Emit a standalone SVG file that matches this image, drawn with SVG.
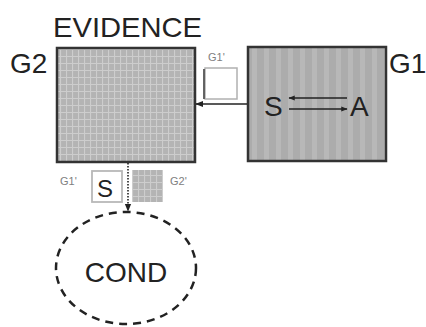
<svg xmlns="http://www.w3.org/2000/svg" width="426" height="327" viewBox="0 0 426 327">
  <style>
    .lbl { font-family: "Liberation Sans", Arial, sans-serif; fill: #222222; }
    .big { font-size: 28px; }
    .tiny { font-size: 11px; fill: #808080; }
    .box { stroke: #333333; stroke-width: 2.5; }
    .conn { fill: none; stroke: #222222; stroke-width: 1.6; }
  </style>
  <defs>
    <!-- crosshatched grid fill -->
    <pattern id="grid" width="6" height="7" patternUnits="userSpaceOnUse">
      <rect width="6" height="7" fill="#b4b4b4"/>
      <path d="M0.5 0 V7 M0 0.5 H6" stroke="#cdcdcd" stroke-width="1.2"/>
    </pattern>
    <!-- vertical stripe fill -->
    <pattern id="stripes" width="12" height="10" patternUnits="userSpaceOnUse">
      <rect width="12" height="10" fill="#acacac"/>
      <rect x="0" width="5" height="10" fill="#b8b8b8"/>
    </pattern>
    <marker id="arr" viewBox="0 0 10 10" refX="9" refY="5" markerWidth="5" markerHeight="5" orient="auto">
      <path d="M0 1 L10 5 L0 9 Z" fill="#222222"/>
    </marker>
    <marker id="arrSm" viewBox="0 0 10 10" refX="9" refY="5" markerWidth="4" markerHeight="4" orient="auto">
      <path d="M0 1 L10 5 L0 9 Z" fill="#222222"/>
    </marker>
  </defs>

  <!-- EVIDENCE graph -->
  <g id="g2">
    <text class="lbl big" x="53" y="37" textLength="149" lengthAdjust="spacingAndGlyphs">EVIDENCE</text>
    <text class="lbl big" x="10" y="73">G2</text>
    <rect class="box" x="57" y="48" width="138" height="114" fill="url(#grid)"/>
  </g>

  <!-- G1 graph -->
  <g id="g1">
    <rect class="box" x="248" y="47" width="138" height="114" fill="url(#stripes)"/>
    <text class="lbl big" x="389" y="73">G1</text>
    <text class="lbl big" x="264" y="116">S</text>
    <text class="lbl big" x="350" y="116">A</text>
    <line class="conn" x1="347" y1="98" x2="289" y2="98" stroke-width="1.2" marker-end="url(#arrSm)"/>
    <line class="conn" x1="289" y1="109" x2="347" y2="109" stroke-width="1.2" marker-end="url(#arrSm)"/>
  </g>

  <!-- projection of G1 -->
  <g id="g1-proj">
    <text class="lbl tiny" x="208" y="61" font-size="10">G1'</text>
    <rect x="205" y="68" width="32" height="31" fill="#ffffff" stroke="#b0b0b0" stroke-width="1.5"/>
    <line x1="204" y1="69" x2="204" y2="99" stroke="#555555" stroke-width="1.8"/>
  </g>

  <!-- condition node -->
  <g id="cond">
    <ellipse cx="126" cy="268" rx="70" ry="56" fill="none" stroke="#222222" stroke-width="2.5" stroke-dasharray="8 6"/>
    <text class="lbl big" x="126" y="282" text-anchor="middle">COND</text>
  </g>

  <!-- projections shown under G2 -->
  <g id="proj-pair">
    <text class="lbl tiny" x="60" y="185" font-size="12">G1'</text>
    <rect x="92" y="171" width="30" height="31" fill="#ffffff" stroke="#b8b8b8" stroke-width="1.8"/>
    <text class="lbl" x="97" y="197" font-size="24">S</text>
    <rect x="132" y="170" width="31" height="32" fill="url(#grid)"/>
    <text class="lbl tiny" x="170" y="185" font-size="12">G2'</text>
  </g>

  <!-- connectors -->
  <g id="connectors">
    <line class="conn" x1="247" y1="104" x2="196" y2="104" marker-end="url(#arr)"/>
    <line class="conn" x1="128" y1="163" x2="128" y2="211" stroke-dasharray="1.5 1.5" marker-end="url(#arr)"/>
  </g>
</svg>
